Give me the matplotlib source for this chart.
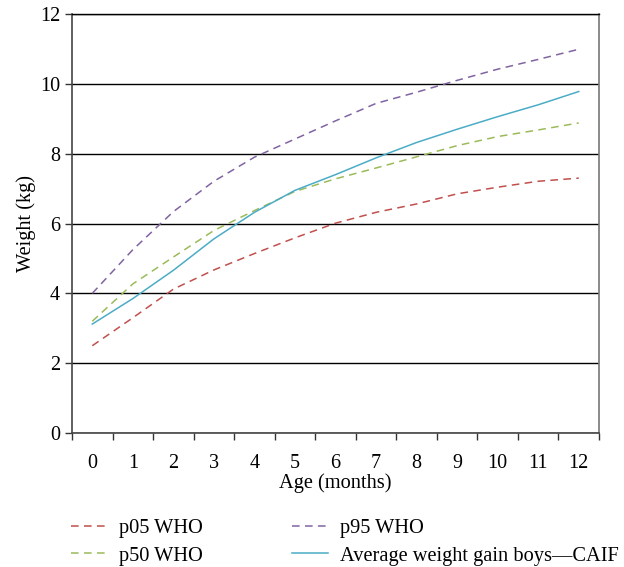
import matplotlib.pyplot as plt
import numpy as np

plt.rcParams['font.family'] = ['Liberation Serif', 'DejaVu Serif']

ages = list(range(13))
p05 = [2.5, 3.3, 4.12, 4.67, 5.14, 5.59, 6.01, 6.32, 6.56, 6.85, 7.04, 7.21, 7.3]
p50 = [3.2, 4.27, 5.04, 5.8, 6.37, 6.92, 7.28, 7.59, 7.91, 8.23, 8.49, 8.68, 8.88]
p95 = [4.0, 5.25, 6.34, 7.21, 7.9, 8.42, 8.94, 9.44, 9.76, 10.1, 10.42, 10.7, 10.99]
caif = [3.12, 3.85, 4.66, 5.56, 6.32, 6.95, 7.4, 7.88, 8.32, 8.7, 9.06, 9.4, 9.78]

fig = plt.figure(figsize=(6.24, 5.67), dpi=100)
ax = fig.add_axes([0.1154, 0.2363, 0.8446, 0.739])

x = np.arange(len(ages))
dash = (0, (5, 3.5))
ax.plot(x, p05, color='#C0504D', lw=1.1, linestyle=dash, label='p05 WHO')
ax.plot(x, p50, color='#9BBB59', lw=1.1, linestyle=dash, label='p50 WHO')
ax.plot(x, p95, color='#8064A2', lw=1.1, linestyle=dash, label='p95 WHO')
ax.plot(x, caif, color='#4BACC6', lw=1.1, label='Average weight gain boys\u2014CAIF')

ax.set_xlim(-0.5, 12.5)
ax.set_ylim(0, 12)
ax.set_yticks(range(0, 13, 2))
ax.set_xticks(x)
ax.set_xticklabels([str(a) for a in ages])
ax.set_xticks(np.arange(-0.5, 13, 1), minor=True)
ax.tick_params(axis='x', which='major', length=0, labelsize=14.5, pad=15)
ax.tick_params(axis='x', which='minor', length=5, width=1, direction='out', color='#333333')
ax.tick_params(axis='y', length=5, width=1, labelsize=14.5, color='#333333')
ax.grid(axis='y', color='black', lw=1)
ax.set_axisbelow(True)

for side in ['left', 'bottom', 'right']:
    ax.spines[side].set_color('#444444')
    ax.spines[side].set_linewidth(1.2)
ax.spines['top'].set_color('black')
ax.spines['top'].set_linewidth(1)
ax.spines['right'].set_color('#777777')

ax.set_xlabel('Age (months)', fontsize=14.7, labelpad=0)
ax.set_ylabel('Weight (kg)', fontsize=14.7, labelpad=3)

handles, labels = ax.get_legend_handles_labels()
fig.legend(handles, labels,
           loc='upper left', bbox_to_anchor=(0.098, 0.103), ncol=2, frameon=False,
           fontsize=14.7, handlelength=1.75, columnspacing=4.35, labelspacing=0.4,
           handletextpad=0.6, borderpad=0)

fig.savefig('out.png', dpi=100)
